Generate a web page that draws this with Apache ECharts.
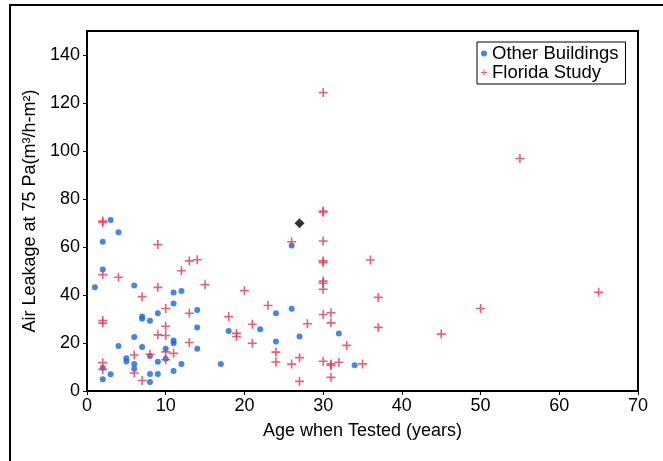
<!DOCTYPE html>
<html>
<head>
<meta charset="utf-8">
<script src="https://cdn.jsdelivr.net/npm/echarts@6/dist/echarts.min.js"></script>
<style>
html,body{margin:0;padding:0;background:#fff;}
#chart{width:663px;height:461px;}
</style>
</head>
<body>
<div id="chart"></div>
<script>
// Data: [age (years), air leakage]
var otherBuildings = [
  [1,43.2],[2,62.2],[2,50.6],[2,9.7],[2,4.9],[3,71.3],[3,7],[4,66.1],[4,18.7],
  [5,13.6],[5,12.3],[6,44],[6,22.5],[6,11.2],[6,9.3],[7,31],[7,30.1],[7,18.3],
  [8,29.3],[8,14.6],[8,7.1],[8,3.8],[9,32.4],[9,12.2],[9,7.1],[10,17.6],[10,13.4],
  [11,41],[11,36.5],[11,21],[11,19.9],[11,8.3],[12,41.7],[12,11.2],[14,33.8],
  [14,26.5],[14,17.6],[17,11.2],[18,25],[22,25.7],[24,32.4],[24,20.6],[26,60.6],
  [26,34.3],[27,22.7],[32,24],[34,10.7]
];
var floridaStudy = [
  [2,70.8],[2,70.2],[2,48.5],[2,29.4],[2,28.3],[2,11.8],[2,9],[4,47.4],[6,15],
  [6,7.5],[7,39.3],[7,4.4],[8,15.3],[9,61],[9,43.2],[9,23.4],[10,34.4],[10,27],
  [10,23.1],[10,16.3],[10,13],[11,15.7],[12,50.1],[13,54.2],[13,32.4],[13,20.2],
  [14,54.7],[15,44.3],[18,31],[19,24],[19,22.7],[20,41.8],[21,27.8],[21,19.9],
  [23,35.6],[24,16.2],[24,12.1],[26,62.2],[26,11.2],[27,13.9],[27,4],[28,28],
  [30,124.4],[30,75],[30,74.5],[30,62.5],[30,54.2],[30,53.5],[30,45.8],[30,44.9],
  [30,42.4],[30,31.9],[30,12.4],[31,32.6],[31,28.4],[31,11.3],[31,10.6],[31,5.7],
  [32,12],[33,19],[35,11.3],[36,54.6],[37,39],[37,26.5],[45,23.7],[50,34.4],
  [55,96.9],[65,41.1]
];
var highlighted = [[27,69.9]];

var xAxisName = 'Age when Tested (years)';
var yAxisName = 'Air Leakage at 75 Pa(m³/h-m²)';
var seriesNames = ['Other Buildings', 'Florida Study'];

var FONT = '"Liberation Sans", Arial, sans-serif';
var plusPath = 'path://M4.1,0H5.9V4.1H10V5.9H5.9V10H4.1V5.9H0V4.1H4.1Z';

var chart = echarts.init(document.getElementById('chart'), null, {renderer:'canvas'});
chart.setOption({
  animation: false,
  backgroundColor: '#fff',
  graphic: [{
    type: 'rect',
    shape: {x: 10, y: 5, width: 700, height: 500},
    style: {fill: 'none', stroke: '#000', lineWidth: 2},
    silent: true
  }],
  grid: {
    left: 87, right: 25, top: 31, bottom: 70,
    show: true, borderColor: '#000', borderWidth: 2, backgroundColor: 'transparent'
  },
  legend: {
    orient: 'vertical',
    left: 477, top: 42,
    padding: [2, 7, 2, 4],
    itemGap: 0,
    itemWidth: 6, itemHeight: 6,
    borderColor: '#000', borderWidth: 1,
    backgroundColor: '#fff',
    data: seriesNames,
    textStyle: {fontFamily: FONT, fontSize: 18.5, color: '#000', lineHeight: 19}
  },
  xAxis: {
    type: 'value', min: 0, max: 70, interval: 10,
    name: xAxisName, nameLocation: 'middle', nameGap: 31,
    nameTextStyle: {fontFamily: FONT, fontSize: 18, color: '#000'},
    axisLine: {show: true, lineStyle: {color: '#000', width: 2}},
    axisTick: {show: true, inside: false, length: 4, lineStyle: {color: '#000'}},
    axisLabel: {fontFamily: FONT, fontSize: 18, color: '#000', margin: 6},
    splitLine: {show: false}
  },
  yAxis: {
    type: 'value', min: 0, max: 150, interval: 20,
    name: yAxisName, nameLocation: 'middle', nameGap: 46, nameRotate: 90,
    nameTextStyle: {fontFamily: FONT, fontSize: 18, color: '#000'},
    axisLine: {show: true, lineStyle: {color: '#000', width: 2}},
    axisTick: {show: true, inside: false, length: 4, lineStyle: {color: '#000'}},
    axisLabel: {fontFamily: FONT, fontSize: 18, color: '#000', margin: 7, showMaxLabel: false},
    splitLine: {show: false}
  },
  series: [
    {
      name: seriesNames[0], type: 'scatter', data: otherBuildings,
      symbol: 'circle', symbolSize: 6,
      itemStyle: {color: '#1766dc'}, z: 2
    },
    {
      name: seriesNames[1], type: 'scatter', data: floridaStudy,
      symbol: plusPath, symbolSize: 9,
      itemStyle: {color: '#e03a58'}, z: 3
    },
    {
      name: 'Highlighted', type: 'scatter', data: highlighted,
      symbol: 'diamond', symbolSize: 10,
      itemStyle: {color: '#000'}, z: 4
    }
  ]
});
</script>
</body>
</html>
